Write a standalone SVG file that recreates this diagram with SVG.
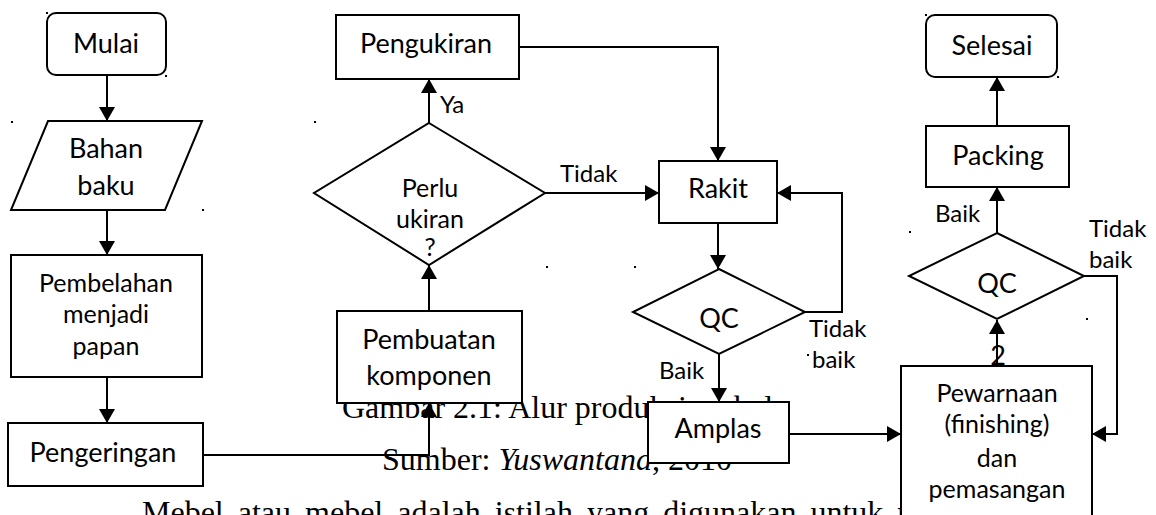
<svg xmlns="http://www.w3.org/2000/svg" width="1156" height="515" viewBox="0 0 1156 515">
<style>
.n{fill:#fff;stroke:#000;stroke-width:2}
.c{fill:none;stroke:#000;stroke-width:2}
.t{font-family:Lato,"Liberation Sans",sans-serif;font-size:27px;fill:#000;text-anchor:middle}
.m{font-size:25px}
.s{font-family:Lato,"Liberation Sans",sans-serif;font-size:24px;fill:#000}
.cap{font-family:"Liberation Serif","Times New Roman",serif;font-size:32px;fill:#000}
.d{fill:#000}
</style>
<defs>
<marker id="ah" viewBox="0 0 14 16" refX="14" refY="8" markerWidth="14" markerHeight="16" orient="auto" markerUnits="userSpaceOnUse"><path d="M0,0 L14,8 L0,16 z" fill="#000"/></marker>
</defs>
<g id="caption">
<text class="cap" x="342" y="418">Gambar 2.1: Alur produksi mebel</text>
<text class="cap" x="382" y="470">Sumber: <tspan font-style="italic">Yuswantana</tspan>, 2010</text>
<text class="cap" x="142" y="523" word-spacing="6">Mebel atau mebel adalah istilah yang digunakan untuk m</text>
</g>
<g id="connectors">
<path class="c" d="M107,75 V121" marker-end="url(#ah)"/>
<path class="c" d="M107,210 V255" marker-end="url(#ah)"/>
<path class="c" d="M107,377 V423" marker-end="url(#ah)"/>
<path class="c" d="M203,455 H429 V403" marker-end="url(#ah)"/>
<path class="c" d="M429,311 V265" marker-end="url(#ah)"/>
<path class="c" d="M429,123 V79" marker-end="url(#ah)"/>
<path class="c" d="M519,47 H718 V161" marker-end="url(#ah)"/>
<path class="c" d="M545,193 H659" marker-end="url(#ah)"/>
<path class="c" d="M718,223 V269" marker-end="url(#ah)"/>
<path class="c" d="M805,312 H842 V193 H777" marker-end="url(#ah)"/>
<path class="c" d="M719,354 V402" marker-end="url(#ah)"/>
<path class="c" d="M789,434 H901" marker-end="url(#ah)"/>
<path class="c" d="M997,366 V320" marker-end="url(#ah)"/>
<path class="c" d="M997,233 V187" marker-end="url(#ah)"/>
<path class="c" d="M997,126 V77" marker-end="url(#ah)"/>
<path class="c" d="M1084,276 H1117 V434 H1092" marker-end="url(#ah)"/>
</g>
<g id="labels">
<text class="s" x="440" y="113">Ya</text>
<text class="s" x="560" y="182">Tidak</text>
<text class="s" x="659" y="379">Baik</text>
<text class="s" x="809" y="337">Tidak</text>
<text class="s" x="812" y="368">baik</text>
<text class="s" x="935" y="222">Baik</text>
<text class="s" x="1089" y="237">Tidak</text>
<text class="s" x="1089" y="268">baik</text>
</g>
<g id="mulai">
<rect class="n" x="47" y="13" width="119" height="62" rx="9"/>
<text class="t" x="106" y="53">Mulai</text>
</g>
<g id="bahan-baku">
<path class="n" d="M48,121 H202 L165,210 H11 Z"/>
<text class="t" x="106" y="158">Bahan</text>
<text class="t" x="106" y="195">baku</text>
</g>
<g id="pembelahan">
<rect class="n" x="11" y="255" width="191" height="122"/>
<text class="t m" x="106" y="292">Pembelahan</text>
<text class="t m" x="106" y="323">menjadi</text>
<text class="t m" x="106" y="355">papan</text>
</g>
<g id="pengeringan">
<rect class="n" x="8" y="423" width="195" height="63"/>
<text class="t" x="103" y="462">Pengeringan</text>
</g>
<g id="pembuatan-komponen">
<rect class="n" x="337" y="311" width="185" height="92"/>
<text class="t" x="429" y="349">Pembuatan</text>
<text class="t" x="429" y="385">komponen</text>
</g>
<g id="perlu-ukiran">
<path class="n" d="M429,123 L545,193 L429,265 L314,193 Z"/>
<text class="t m" x="430" y="197">Perlu</text>
<text class="t m" x="430" y="228">ukiran</text>
<text class="t m" x="430" y="256">?</text>
</g>
<g id="pengukiran">
<rect class="n" x="336" y="15" width="183" height="64"/>
<text class="t" x="426" y="53">Pengukiran</text>
</g>
<g id="rakit">
<rect class="n" x="659" y="161" width="118" height="62"/>
<text class="t" x="718" y="198">Rakit</text>
</g>
<g id="qc1">
<path class="n" d="M719,269 L805,312 L719,354 L633,312 Z"/>
<text class="t" x="719" y="328">QC</text>
</g>
<g id="amplas">
<rect class="n" x="648" y="402" width="141" height="61"/>
<text class="t" x="718" y="438">Amplas</text>
</g>
<g id="pewarnaan">
<rect class="n" x="901" y="366" width="191" height="160"/>
<text class="t m" x="997" y="402">Pewarnaan</text>
<text class="t m" x="997" y="433">(finishing)</text>
<text class="t m" x="997" y="467">dan</text>
<text class="t m" x="997" y="498">pemasangan</text>
</g>
<g id="qc2">
<path class="n" d="M997,233 L1084,276 L997,319 L909,276 Z"/>
<text class="t" x="997" y="293">QC</text>
<text class="t" x="998" y="365">2</text>
</g>
<g id="packing">
<rect class="n" x="926" y="126" width="143" height="61"/>
<text class="t" x="998" y="165">Packing</text>
</g>
<g id="selesai">
<rect class="n" x="926" y="15" width="131" height="62" rx="9"/>
<text class="t" x="992" y="55">Selesai</text>
</g>
<g id="dots" class="d">
<rect x="46" y="12" width="2" height="2"/>
<rect x="165" y="75" width="2" height="2"/>
<rect x="11" y="121" width="2" height="2"/>
<rect x="314" y="121" width="2" height="2"/>
<rect x="202" y="209" width="2" height="2"/>
<rect x="546" y="266" width="2" height="2"/>
<rect x="634" y="266" width="2" height="2"/>
<rect x="807" y="354" width="2" height="2"/>
<rect x="909" y="231" width="2" height="2"/>
<rect x="1086" y="318" width="2" height="2"/>
<rect x="925" y="14" width="2" height="2"/>
<rect x="1057" y="76" width="2" height="2"/>
</g>
</svg>
